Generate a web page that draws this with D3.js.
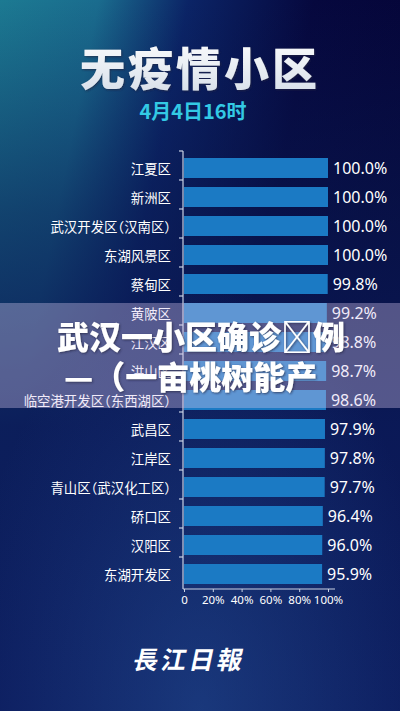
<!DOCTYPE html>
<html>
<head>
<meta charset="utf-8">
<script src="https://cdn.jsdelivr.net/npm/d3@7"></script>
<style>
  html, body { margin: 0; padding: 0; background: #0a1a52; }
  svg { display: block; }
  .cat { font-feature-settings: "halt"; }
</style>
</head>
<body>
<div id="chart"></div>
<script>
const titleText = "无疫情小区";
const subtitleText = "4月4日16时";
const categories = ["江夏区", "新洲区", "武汉开发区（汉南区）", "东湖风景区", "蔡甸区", "黄陂区", "江汉区", "洪山区", "临空港开发区（东西湖区）", "武昌区", "江岸区", "青山区（武汉化工区）", "硚口区", "汉阳区", "东湖开发区"];
const values = [100.0, 100.0, 100.0, 100.0, 99.8, 99.2, 98.8, 98.7, 98.6, 97.9, 97.8, 97.7, 96.4, 96.0, 95.9];
const xTicks = [0, 20, 40, 60, 80, 100];
const xTickLabels = ["0", "20%", "40%", "60%", "80%", "100%"];
const overlayLines = ["武汉一小区确诊\uE000例", "—（一亩桃树能产"];
const logoText = "長江日報";

const W = 400, H = 711;
const svg = d3.select("#chart").append("svg").attr("width", W).attr("height", H);
const defs = svg.append("defs");

// background gradients
const g1 = defs.append("linearGradient").attr("id", "bgH").attr("x1", "0").attr("y1", "0").attr("x2", "1").attr("y2", "0.35");
g1.append("stop").attr("offset", "0").attr("stop-color", "#1c7a92");
g1.append("stop").attr("offset", "0.22").attr("stop-color", "#1a6c8e");
g1.append("stop").attr("offset", "0.42").attr("stop-color", "#0b2466");
g1.append("stop").attr("offset", "0.7").attr("stop-color", "#06083e");
g1.append("stop").attr("offset", "1").attr("stop-color", "#050538");

const g2 = defs.append("linearGradient").attr("id", "bgV").attr("x1", "0").attr("y1", "0").attr("x2", "0").attr("y2", "1");
g2.append("stop").attr("offset", "0").attr("stop-color", "#0a1a52").attr("stop-opacity", 0);
g2.append("stop").attr("offset", "0.3").attr("stop-color", "#0a1a52").attr("stop-opacity", 0.55);
g2.append("stop").attr("offset", "0.6").attr("stop-color", "#0b1a58").attr("stop-opacity", 0.95);
g2.append("stop").attr("offset", "1").attr("stop-color", "#0c1c5e").attr("stop-opacity", 1);

const g3 = defs.append("radialGradient").attr("id", "glow").attr("cx", "0.5").attr("cy", "1").attr("r", "0.6");
g3.append("stop").attr("offset", "0").attr("stop-color", "#2a5aa0").attr("stop-opacity", 0.45);
g3.append("stop").attr("offset", "1").attr("stop-color", "#2a5aa0").attr("stop-opacity", 0);

const tg = defs.append("linearGradient").attr("id", "titleGrad").attr("x1", "0").attr("y1", "0").attr("x2", "0").attr("y2", "1");
tg.append("stop").attr("offset", "0").attr("stop-color", "#ffffff");
tg.append("stop").attr("offset", "1").attr("stop-color", "#d4dde8");

const sh = defs.append("filter").attr("id", "shadow").attr("x", "-10%").attr("y", "-20%").attr("width", "120%").attr("height", "140%");
sh.append("feDropShadow").attr("dx", 1).attr("dy", 1).attr("stdDeviation", 1.2).attr("flood-color", "#202040").attr("flood-opacity", 0.7);

svg.append("rect").attr("width", W).attr("height", H).attr("fill", "url(#bgH)");
svg.append("rect").attr("width", W).attr("height", H).attr("fill", "url(#bgV)");
svg.append("rect").attr("width", W).attr("height", H).attr("fill", "url(#glow)");

// Title
svg.append("text")
  .attr("x", 200).attr("y", 66)
  .attr("text-anchor", "middle").attr("dominant-baseline", "central")
  .attr("font-family", "'Noto Sans CJK SC'").attr("font-weight", 900)
  .attr("font-size", 45).attr("letter-spacing", 3)
  .attr("fill", "url(#titleGrad)").attr("filter", "url(#shadow)")
  .text(titleText);

svg.append("text")
  .attr("x", 193).attr("y", 110)
  .attr("text-anchor", "middle").attr("dominant-baseline", "central")
  .attr("font-family", "'Noto Sans CJK SC'").attr("font-weight", 700)
  .attr("font-size", 20)
  .attr("fill", "#33c9e4")
  .text(subtitleText);

// Scales
const x = d3.scaleLinear().domain([0, 100]).range([184, 328]);
const y = d3.scaleBand().domain(categories).range([153.5, 588.5]).paddingInner(0.31).paddingOuter(0.155);
const data = categories.map((c, i) => ({ c, v: values[i] }));

const chart = svg.append("g");

chart.selectAll("rect.bar").data(data).join("rect")
  .attr("class", "bar")
  .attr("x", x(0)).attr("y", d => y(d.c))
  .attr("width", d => x(d.v) - x(0)).attr("height", y.bandwidth())
  .attr("fill", "#1b7ac4");

// y axis line and ticks at category boundaries
const axisColor = "#c9d2e4";
chart.append("line").attr("x1", 183).attr("x2", 183).attr("y1", y(categories[0]) - 7).attr("y2", 589)
  .attr("stroke", axisColor).attr("stroke-width", 1.2);
chart.selectAll("line.ytick").data(categories).join("line")
  .attr("class", "ytick")
  .attr("x1", 179).attr("x2", 183)
  .attr("y1", d => y(d) - 7).attr("y2", d => y(d) - 7)
  .attr("stroke", axisColor).attr("stroke-width", 1.2);

chart.selectAll("text.cat").data(data).join("text")
  .attr("class", "cat")
  .attr("x", 171).attr("y", d => y(d.c) + y.bandwidth() / 2)
  .attr("text-anchor", "end").attr("dominant-baseline", "central")
  .attr("font-family", "'Noto Sans CJK SC'").attr("font-size", 13.4)
  .attr("fill", "#ffffff")
  .text(d => d.c);

chart.selectAll("text.val").data(data).join("text")
  .attr("class", "val")
  .attr("x", d => x(d.v) + 5).attr("y", d => y(d.c) + y.bandwidth() / 2)
  .attr("dominant-baseline", "central")
  .attr("font-family", "'Noto Sans'").attr("font-size", 16)
  .attr("fill", "#ffffff")
  .text(d => d.v.toFixed(1) + "%");

// x axis
const xAxis = d3.axisBottom(x).tickValues(xTicks).tickSize(3).tickPadding(4)
  .tickFormat((d, i) => xTickLabels[i]);
const xg = chart.append("g").attr("transform", "translate(0,589)").call(xAxis);
xg.select(".domain").attr("d", "M183,0H335").attr("stroke", axisColor).attr("stroke-width", 1.2);
xg.selectAll(".tick line").attr("stroke", axisColor);
xg.selectAll(".tick text").attr("fill", "#ffffff").attr("font-family", "'Noto Sans'").attr("font-size", 11.5);

// overlay band
svg.append("rect").attr("x", 0).attr("y", 303).attr("width", W).attr("height", 105)
  .attr("fill", "rgb(215,200,238)").attr("fill-opacity", 0.36);

const ov = svg.append("g").attr("filter", "url(#shadow)");
ov.append("text").attr("x", 57).attr("y", 335).attr("dominant-baseline", "central")
  .attr("font-family", "'Noto Sans CJK SC'").attr("font-weight", 900).attr("font-size", 32)
  .attr("fill", "#ffffff").text(overlayLines[0]);
ov.append("text").attr("x", 64).attr("y", 375).attr("dominant-baseline", "central")
  .attr("font-family", "'Noto Sans CJK SC'").attr("font-weight", 900).attr("font-size", 32)
  .attr("fill", "#ffffff").text(overlayLines[1]);

// logo
svg.append("text").attr("x", 190).attr("y", 658)
  .attr("text-anchor", "middle").attr("dominant-baseline", "central")
  .attr("font-family", "'Noto Sans CJK TC'").attr("font-weight", 700).attr("font-size", 25)
  .attr("letter-spacing", 3)
  .attr("transform", "skewX(-12) translate(140,0)")
  .attr("fill", "#ffffff").text(logoText);
</script>
</body>
</html>
